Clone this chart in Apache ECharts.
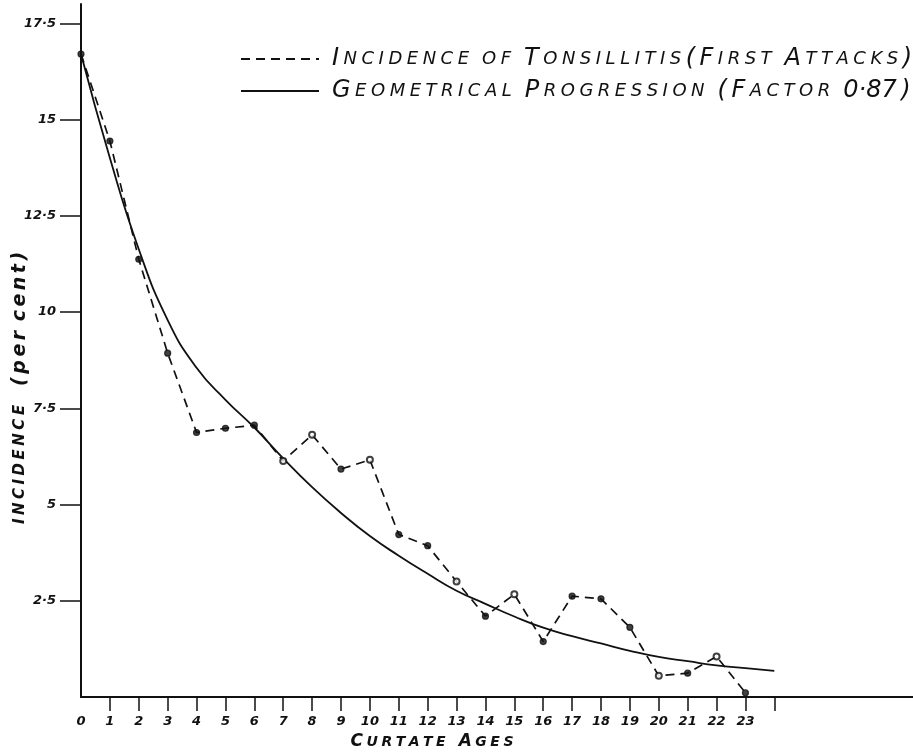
<!DOCTYPE html>
<html>
<head>
<meta charset="utf-8">
<script src="https://cdn.jsdelivr.net/npm/echarts@6/dist/echarts.min.js"></script>
<style>
  html, body { margin: 0; padding: 0; background: #ffffff; }
  #chart { width: 913px; height: 752px; }
</style>
</head>
<body>
<div id="chart"></div>
<script>
// Incidence of tonsillitis (first attacks), per cent, by curtate age
const ages = [0, 1, 2, 3, 4, 5, 6, 7, 8, 9, 10, 11, 12, 13, 14, 15, 16, 17, 18, 19, 20, 21, 22, 23];
const incidence = [16.7, 14.44, 11.37, 8.93, 6.87, 6.98, 7.06, 6.13, 6.81, 5.92, 6.16, 4.22, 3.93, 3.0, 2.1, 2.67, 1.44, 2.62, 2.55, 1.81, 0.55, 0.62, 1.05, 0.11];

// Fitted geometrical progression (factor 0.87), read at each age
const curveAges = [0, 1, 2, 3, 4, 5, 6, 7, 8, 9, 10, 11, 12, 13, 14, 15, 16, 17, 18, 19, 20, 21, 22, 23, 24];
const progression = [16.7, 14.0, 11.63, 9.79, 8.55, 7.72, 7.0, 6.2, 5.45, 4.78, 4.18, 3.67, 3.2, 2.76, 2.42, 2.09, 1.8, 1.58, 1.39, 1.2, 1.04, 0.93, 0.82, 0.75, 0.68];

// Ages plotted with an open ring instead of a solid dot
const hollowAges = [7, 8, 10, 13, 15, 20, 22];

// Axis ticks and labels
const yTicks = [2.5, 5, 7.5, 10, 12.5, 15, 17.5];
const xTicks = [1, 2, 3, 4, 5, 6, 7, 8, 9, 10, 11, 12, 13, 14, 15, 16, 17, 18, 19, 20, 21, 22, 23, 24];
const xLabels = [0, 1, 2, 3, 4, 5, 6, 7, 8, 9, 10, 11, 12, 13, 14, 15, 16, 17, 18, 19, 20, 21, 22, 23];

const NAME_INCIDENCE = 'Incidence of Tonsillitis(First Attacks)';
const NAME_PROGRESSION = 'Geometrical Progression (Factor 0·87)';
const X_TITLE = 'Curtate Ages';

const FONT = '"DejaVu Sans", sans-serif';
const INK = '#111111';

const isDigitLike = c => (c >= '0' && c <= '9') || c === '·';

// Hand-lettered look: lowercase letters become small capitals, everything
// else is a full-size capital, and letters are spread apart by fixed-width
// gap tokens (numbers stay tight).
function smallCaps(text) {
  const out = [];
  for (let i = 0; i < text.length; i++) {
    const c = text[i];
    if (c === ' ') { out.push('{w| }'); continue; }
    const isSmall = c >= 'a' && c <= 'z';
    out.push(isSmall ? '{s|' + c.toUpperCase() + '}' : '{b|' + c + '}');
    const next = text[i + 1];
    if (next !== undefined && next !== ' ' && !(isDigitLike(c) && isDigitLike(next))) out.push('{g| }');
  }
  return out.join('');
}

function spaced(text, style) {
  const out = [];
  for (let i = 0; i < text.length; i++) {
    const c = text[i];
    if (c === ' ') { out.push('{w| }'); continue; }
    out.push('{' + style + '|' + c + '}');
    if (i < text.length - 1 && text[i + 1] !== ' ') out.push('{g| }');
  }
  return out.join('');
}

const chart = echarts.init(document.getElementById('chart'), null, { renderer: 'canvas' });

const incidencePoints = ages.map((a, i) => [a, incidence[i]]);
const progressionPoints = curveAges.map((a, i) => [a, progression[i]]);

const option = {
  backgroundColor: '#ffffff',
  animation: false,
  grid: { left: 81, right: 0, top: 4, bottom: 55, containLabel: false },
  legend: {
    orient: 'vertical',
    left: 235,
    top: 42,
    itemWidth: 78,
    itemHeight: 12,
    itemGap: 8,
    data: [NAME_INCIDENCE, NAME_PROGRESSION],
    formatter: name => smallCaps(name),
    itemStyle: { opacity: 0 },
    textStyle: {
      color: INK,
      padding: [0, 0, 0, 8],
      rich: {
        b: { fontFamily: FONT, fontStyle: 'italic', fontSize: 24, lineHeight: 24, color: INK },
        s: { fontFamily: FONT, fontStyle: 'italic', fontSize: 18, lineHeight: 24, color: INK },
        g: { fontFamily: FONT, fontSize: 10, lineHeight: 24, width: 4.5 },
        w: { fontFamily: FONT, fontSize: 10, lineHeight: 24, width: 13 }
      }
    },
    selectedMode: false
  },
  xAxis: {
    type: 'value',
    min: 0,
    max: 28.8,
    splitLine: { show: false },
    axisLine: { onZero: false, lineStyle: { color: INK, width: 2 } },
    axisTick: { show: true, length: 14, customValues: xTicks, lineStyle: { color: INK, width: 1.5 } },
    axisLabel: {
      customValues: xLabels,
      margin: 18,
      color: INK,
      fontFamily: FONT,
      fontStyle: 'italic',
      fontWeight: 'bold',
      fontSize: 13
    }
  },
  yAxis: {
    type: 'value',
    min: 0,
    max: 18,
    splitLine: { show: false },
    axisLine: { onZero: false, lineStyle: { color: INK, width: 2 } },
    axisTick: { show: true, length: 21, customValues: yTicks, lineStyle: { color: INK, width: 1.5 } },
    axisLabel: {
      customValues: yTicks,
      margin: 25,
      color: INK,
      fontFamily: FONT,
      fontStyle: 'italic',
      fontWeight: 'bold',
      fontSize: 13,
      formatter: v => String(v).replace('.', '·')
    }
  },
  graphic: [
    {
      type: 'text',
      x: 20,
      y: 388,
      rotation: Math.PI / 2,
      style: {
        text: spaced('INCIDENCE', 'c') + '{w| }{w| }' + spaced('(per cent)', 'p'),
        align: 'center',
        verticalAlign: 'middle',
        rich: {
          c: { fontFamily: FONT, fontStyle: 'italic', fontWeight: 'bold', fontSize: 15, fill: INK },
          p: { fontFamily: FONT, fontStyle: 'italic', fontWeight: 'bold', fontSize: 19, fill: INK },
          g: { fontFamily: FONT, fontSize: 10, width: 3.5 },
          w: { fontFamily: FONT, fontSize: 10, width: 9.5 }
        }
      }
    },
    {
      type: 'text',
      x: 432,
      y: 742,
      style: {
        text: smallCaps(X_TITLE),
        align: 'center',
        verticalAlign: 'middle',
        rich: {
          b: { fontFamily: FONT, fontStyle: 'italic', fontWeight: 'bold', fontSize: 17, fill: INK },
          s: { fontFamily: FONT, fontStyle: 'italic', fontWeight: 'bold', fontSize: 14, fill: INK },
          g: { fontFamily: FONT, fontSize: 10, width: 3.5 },
          w: { fontFamily: FONT, fontSize: 10, width: 13 }
        }
      }
    }
  ],
  series: [
    {
      name: NAME_INCIDENCE,
      type: 'line',
      data: incidencePoints,
      symbol: 'none',
      lineStyle: { color: INK, width: 1.7, type: [9, 6] },
      itemStyle: { color: INK },
      z: 3
    },
    {
      name: NAME_PROGRESSION,
      type: 'line',
      data: progressionPoints,
      smooth: 0.5,
      symbol: 'none',
      lineStyle: { color: INK, width: 1.8, type: 'solid' },
      itemStyle: { color: INK },
      z: 2
    },
    {
      name: 'markers',
      type: 'scatter',
      data: incidencePoints,
      symbol: (value) => hollowAges.includes(value[0]) ? 'emptyCircle' : 'circle',
      symbolSize: 6,
      itemStyle: { color: INK, borderColor: INK, borderWidth: 1.2 },
      z: 4
    }
  ]
};

chart.setOption(option);
</script>
</body>
</html>
